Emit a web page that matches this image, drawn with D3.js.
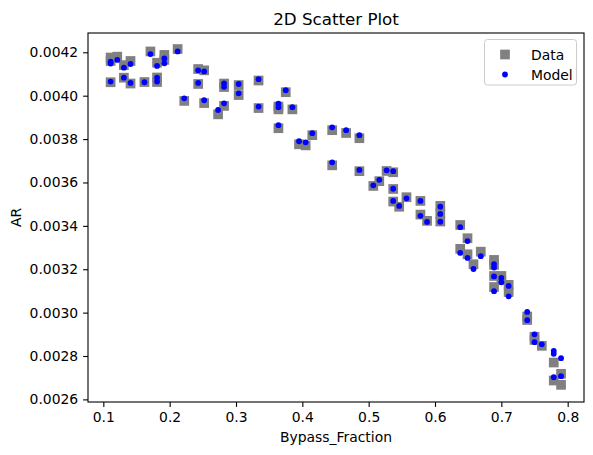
<!DOCTYPE html>
<meta charset="utf-8">
<style>
body { margin: 0; background: #fff; }
svg { font-family: "DejaVu Sans", sans-serif; }
</style>
<svg width="593" height="455"></svg>
<script src="https://cdn.jsdelivr.net/npm/d3@7"></script>
<script>
// measured data (gray squares)
var dataX = [0.111,0.111,0.121,0.141,0.131,0.171,0.192,0.192,0.181,0.212,
  0.111,0.131,0.141,0.162,0.181,0.181,0.243,0.252,0.243,0.222,
  0.252,0.282,0.282,0.304,0.304,0.282,0.273,0.334,0.334,0.375,
  0.364,0.364,0.385,0.364,0.395,0.405,0.415,0.445,0.466,0.486,
  0.445,0.486,0.527,0.537,0.516,0.507,0.537,0.537,0.546,0.557,
  0.578,0.578,0.588,0.608,0.608,0.608,0.638,0.649,0.638,0.649,
  0.669,0.658,0.689,0.689,0.689,0.689,0.700,0.700,0.711,0.711,
  0.739,0.739,0.750,0.750,0.761,0.779,0.779,0.790,0.790];
var dataAR = [0.004176,0.004160,0.004180,0.004160,0.004141,0.004204,0.004188,0.004165,0.004152,0.004215,
  0.004062,0.004083,0.004056,0.004063,0.004084,0.004063,0.004123,0.004117,0.004054,0.003976,
  0.003966,0.004056,0.004040,0.004049,0.004003,0.003953,0.003914,0.004070,0.003943,0.004016,
  0.003950,0.003937,0.003937,0.003850,0.003776,0.003771,0.003818,0.003841,0.003828,0.003804,
  0.003679,0.003652,0.003653,0.003647,0.003606,0.003584,0.003570,0.003512,0.003488,0.003532,
  0.003515,0.003452,0.003423,0.003492,0.003457,0.003420,0.003404,0.003343,0.003294,0.003269,
  0.003281,0.003223,0.003243,0.003220,0.003169,0.003118,0.003169,0.003151,0.003128,0.003095,
  0.002982,0.002966,0.002889,0.002874,0.002847,0.002770,0.002687,0.002718,0.002667];

// model predictions (blue dots)
var modelX = [0.111,0.111,0.121,0.141,0.131,0.171,0.192,0.192,0.181,0.212,
  0.111,0.131,0.141,0.162,0.181,0.181,0.243,0.252,0.243,0.222,
  0.252,0.282,0.282,0.304,0.304,0.282,0.273,0.334,0.334,0.375,
  0.364,0.364,0.385,0.364,0.395,0.405,0.415,0.445,0.466,0.486,
  0.445,0.486,0.527,0.537,0.516,0.507,0.537,0.537,0.546,0.557,
  0.578,0.578,0.588,0.608,0.608,0.608,0.638,0.649,0.638,0.649,
  0.669,0.658,0.689,0.689,0.689,0.689,0.700,0.700,0.711,0.711,
  0.739,0.739,0.750,0.750,0.761,0.779,0.779,0.779,0.790,0.790];
var modelAR = [0.004157,0.004148,0.004165,0.004146,0.004129,0.004192,0.004172,0.004149,0.004137,0.004204,
  0.004065,0.004083,0.004059,0.004062,0.004083,0.004065,0.004117,0.004112,0.004059,0.003988,
  0.003979,0.004057,0.004041,0.004054,0.004011,0.003965,0.003934,0.004076,0.003950,0.004025,
  0.003963,0.003947,0.003947,0.003864,0.003790,0.003785,0.003827,0.003854,0.003841,0.003818,
  0.003693,0.003658,0.003656,0.003652,0.003612,0.003587,0.003571,0.003515,0.003492,0.003527,
  0.003515,0.003446,0.003418,0.003488,0.003455,0.003419,0.003394,0.003330,0.003275,0.003252,
  0.003260,0.003201,0.003224,0.003208,0.003167,0.003099,0.003160,0.003140,0.003123,0.003075,
  0.003003,0.002965,0.002900,0.002864,0.002854,0.002823,0.002810,0.002702,0.002790,0.002707];

var xTicks = [0.1,0.2,0.3,0.4,0.5,0.6,0.7,0.8];
var yTicks = [0.0026,0.0028,0.0030,0.0032,0.0034,0.0036,0.0038,0.0040,0.0042];
var legendNames = ["Data", "Model"];

var plotLeft = 88, plotRight = 584, plotTop = 33, plotBottom = 402;

var svg = d3.select("svg");

var x = d3.scaleLinear().domain([0.0769, 0.8246]).range([plotLeft, plotRight]);
var y = d3.scaleLinear().domain([0.002588, 0.004289]).range([plotBottom, plotTop]);

var xAxis = svg.append("g")
    .attr("transform", "translate(0," + plotBottom + ")")
    .call(d3.axisBottom(x).tickValues(xTicks).tickFormat(d3.format(".1f")).tickSizeOuter(0).tickSize(4.9).tickPadding(4.9));
var yAxis = svg.append("g")
    .attr("transform", "translate(" + plotLeft + ",0)")
    .call(d3.axisLeft(y).tickValues(yTicks).tickFormat(d3.format(".4f")).tickSizeOuter(0).tickSize(4.9).tickPadding(4.9));

[xAxis, yAxis].forEach(function(g) {
  g.select(".domain").remove();
  g.selectAll("line").attr("stroke", "#000").attr("stroke-width", 1.1);
  g.selectAll("text").attr("font-family", "DejaVu Sans").attr("font-size", 13.9).attr("fill", "#000");
});

// data squares
var side = 9.7;
svg.append("g").selectAll("rect")
    .data(dataX)
  .enter().append("rect")
    .attr("x", function(d) { return x(d) - side / 2; })
    .attr("y", function(d, i) { return y(dataAR[i]) - side / 2; })
    .attr("width", side)
    .attr("height", side)
    .attr("fill", "#808080");

// model dots
svg.append("g").selectAll("circle")
    .data(modelX)
  .enter().append("circle")
    .attr("cx", function(d) { return x(d); })
    .attr("cy", function(d, i) { return y(modelAR[i]); })
    .attr("r", 2.9)
    .attr("fill", "#0000ff");

// frame
svg.append("rect")
    .attr("x", plotLeft).attr("y", plotTop)
    .attr("width", plotRight - plotLeft).attr("height", plotBottom - plotTop)
    .attr("fill", "none").attr("stroke", "#000").attr("stroke-width", 1.1);

svg.append("text")
    .attr("x", (plotLeft + plotRight) / 2).attr("y", 24.5)
    .attr("text-anchor", "middle")
    .attr("font-size", 16.7)
    .text("2D Scatter Plot");

svg.append("text")
    .attr("x", (plotLeft + plotRight) / 2).attr("y", 442)
    .attr("text-anchor", "middle")
    .attr("font-size", 13.9)
    .text("Bypass_Fraction");

svg.append("text")
    .attr("transform", "translate(21," + ((plotTop + plotBottom) / 2) + ") rotate(-90)")
    .attr("text-anchor", "middle")
    .attr("font-size", 13.9)
    .text("AR");

// legend
var legend = svg.append("g");
legend.append("rect")
    .attr("x", 484.5).attr("y", 39.5)
    .attr("width", 92).attr("height", 45.5)
    .attr("rx", 3)
    .attr("fill", "#fff").attr("fill-opacity", 0.8)
    .attr("stroke", "#cccccc").attr("stroke-width", 1);

var rows = legend.selectAll("g.row")
    .data(legendNames)
  .enter().append("g")
    .attr("class", "row")
    .attr("transform", function(d, i) { return "translate(505," + (54.5 + i * 20) + ")"; });

rows.each(function(d, i) {
  var g = d3.select(this);
  if (i === 0) {
    g.append("rect").attr("x", -side / 2).attr("y", -side / 2)
        .attr("width", side).attr("height", side).attr("fill", "#808080");
  } else {
    g.append("circle").attr("r", 2.9).attr("fill", "#0000ff");
  }
  g.append("text")
      .attr("x", 26).attr("y", 5)
      .attr("font-size", 13.9)
      .text(d);
});
</script>
